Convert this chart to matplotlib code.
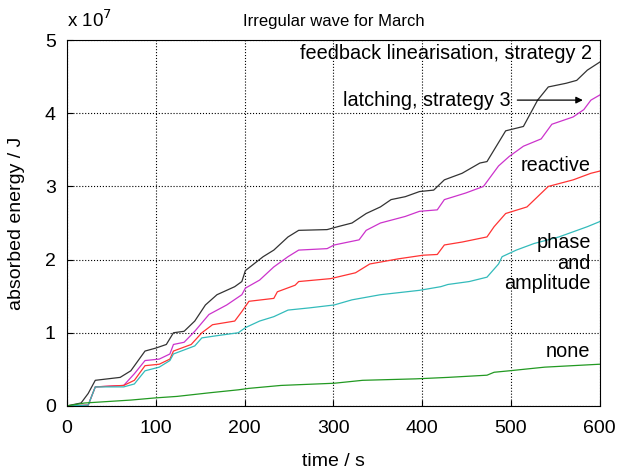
import numpy as np
import matplotlib.pyplot as plt

# energy curves (time in s, energy in 1e7 J)
t_fb = [0, 4, 16, 24, 32, 60, 72, 88, 100, 112, 120, 132, 144, 156, 169, 189, 197, 201, 221, 233,
        249, 261, 293, 305, 321, 337, 353, 365, 381, 397, 413, 425, 445, 465, 473, 486, 494, 514,
        530, 542, 562, 574, 586, 600]
e_fb = [0, 0.01, 0.04, 0.17, 0.35, 0.39, 0.48, 0.75, 0.79, 0.84, 1.0, 1.02, 1.16, 1.38, 1.52, 1.63,
        1.70, 1.85, 2.04, 2.13, 2.31, 2.40, 2.41, 2.45, 2.50, 2.63, 2.72, 2.82, 2.86, 2.93, 2.95,
        3.09, 3.18, 3.32, 3.34, 3.60, 3.76, 3.82, 4.18, 4.36, 4.41, 4.45, 4.59, 4.70]

t_latch = [0, 24, 32, 64, 76, 88, 104, 116, 120, 132, 144, 160, 180, 197, 201, 217, 233, 249, 261,
           293, 301, 329, 337, 353, 381, 397, 417, 425, 449, 469, 486, 498, 514, 534, 546, 570,
           582, 590, 600]
e_latch = [0, 0.01, 0.26, 0.28, 0.44, 0.62, 0.64, 0.71, 0.84, 0.87, 1.02, 1.25, 1.38, 1.52, 1.61,
           1.72, 1.90, 2.04, 2.13, 2.15, 2.20, 2.27, 2.40, 2.50, 2.59, 2.66, 2.68, 2.82, 2.91, 3.0,
           3.28, 3.41, 3.55, 3.65, 3.85, 3.95, 4.05, 4.18, 4.25]

t_react = [0, 24, 32, 64, 76, 88, 104, 116, 120, 140, 152, 164, 189, 197, 205, 233, 237, 257, 261,
           297, 325, 341, 373, 401, 417, 425, 445, 473, 481, 494, 518, 530, 542, 570, 590, 600]
e_react = [0, 0.01, 0.26, 0.28, 0.35, 0.55, 0.57, 0.64, 0.75, 0.84, 1.0, 1.11, 1.16, 1.29, 1.43,
           1.47, 1.56, 1.65, 1.70, 1.74, 1.82, 1.94, 2.01, 2.06, 2.07, 2.20, 2.24, 2.31, 2.45, 2.63,
           2.72, 2.86, 3.0, 3.09, 3.18, 3.21]

t_phase = [0, 24, 32, 64, 76, 88, 104, 116, 120, 144, 152, 169, 193, 201, 217, 233, 249, 273, 301,
           321, 353, 397, 421, 429, 453, 473, 486, 490, 506, 526, 554, 586, 600]
e_phase = [0, 0.01, 0.26, 0.26, 0.30, 0.48, 0.53, 0.62, 0.71, 0.82, 0.93, 0.96, 1.0, 1.07, 1.16,
           1.22, 1.31, 1.34, 1.38, 1.45, 1.52, 1.58, 1.63, 1.66, 1.70, 1.76, 1.94, 2.04, 2.13, 2.22,
           2.31, 2.45, 2.52]

t_none = [0, 20, 72, 100, 124, 161, 193, 205, 241, 301, 333, 393, 429, 473, 481, 498, 538, 600]
e_none = [0, 0.04, 0.08, 0.11, 0.13, 0.18, 0.22, 0.24, 0.28, 0.31, 0.35, 0.37, 0.39, 0.42, 0.46,
          0.48, 0.53, 0.57]

x_ticks = [0, 100, 200, 300, 400, 500, 600]
y_ticks = [0, 1, 2, 3, 4, 5]

plt.rcParams['font.family'] = ['Liberation Sans', 'DejaVu Sans']

fig = plt.figure(figsize=(6.19, 4.72), dpi=100)
ax = fig.add_axes([0.108, 0.140, 0.861, 0.775])

ax.plot(t_fb, e_fb, color='#333333', lw=0.9)
ax.plot(t_latch, e_latch, color='#cc33cc', lw=0.9)
ax.plot(t_react, e_react, color='#ff3333', lw=0.9)
ax.plot(t_phase, e_phase, color='#33bbbb', lw=0.9)
ax.plot(t_none, e_none, color='#229922', lw=0.9)

ax.set_xlim(0, 600)
ax.set_ylim(0, 5)
ax.set_xticks(x_ticks)
ax.set_yticks(y_ticks)
ax.tick_params(axis='x', direction='in', labelsize=14, length=4, pad=10)
ax.tick_params(axis='y', direction='in', labelsize=14, length=4, pad=8)
ax.grid(True, color='black', linestyle=':', linewidth=0.8)

ax.set_xlabel('time / s', fontsize=14, labelpad=12)
ax.set_ylabel('absorbed energy / J', fontsize=14, labelpad=14)
ax.set_title('Irregular wave for March', fontsize=12, pad=10)
ax.text(0.0, 1.025, r'x 10$^7$', transform=ax.transAxes, fontsize=13.5, ha='left', va='bottom')

ax.text(591, 4.82, 'feedback linearisation, strategy 2', fontsize=14.3, ha='right', va='center')
ax.text(500, 4.18, 'latching, strategy 3', fontsize=14.3, ha='right', va='center')
ax.annotate('', xy=(584, 4.18), xytext=(504, 4.18),
            arrowprops=dict(arrowstyle='-|>', color='black', lw=0.9))
ax.text(590, 3.29, 'reactive', fontsize=14.3, ha='right', va='center')
ax.text(590, 1.95, 'phase\nand\namplitude', fontsize=14.3, ha='right', va='center',
        multialignment='right', linespacing=1.1)
ax.text(589, 0.74, 'none', fontsize=14.3, ha='right', va='center')

fig.savefig('out.png', dpi=100)
